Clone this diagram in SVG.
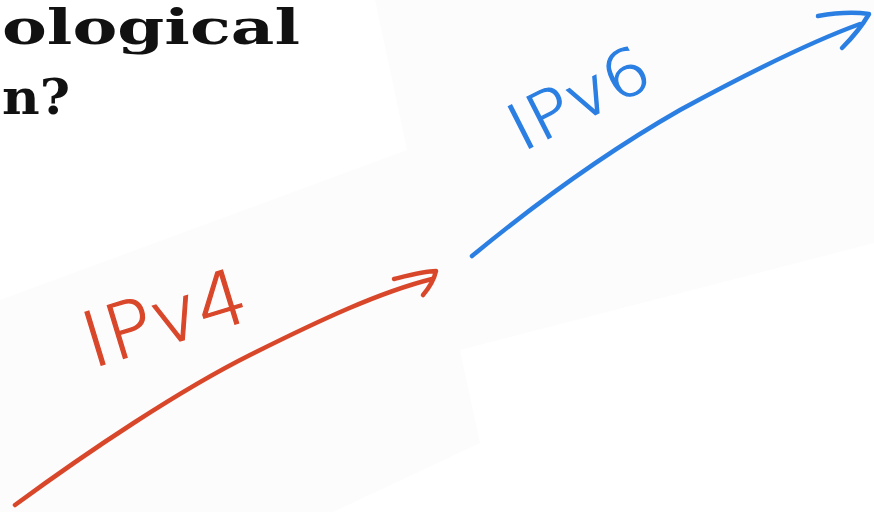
<svg xmlns="http://www.w3.org/2000/svg" width="874" height="512" viewBox="0 0 874 512">
  <style>
    .head { font-family: "DejaVu Serif", "Liberation Serif", serif; font-weight: bold; font-size: 48px; fill: #111; }
    .hand { font-family: "DejaVu Sans", "Liberation Sans", sans-serif; font-weight: 200; stroke-width: 1.2; }
    .red { stroke: #d9472b; fill: none; stroke-width: 4.5; stroke-linecap: round; stroke-linejoin: round; }
    .blue { stroke: #2b7fe3; fill: none; stroke-width: 4.5; stroke-linecap: round; stroke-linejoin: round; }
  </style>
  <rect width="874" height="512" fill="#ffffff"/>
  <g id="paper">
    <polygon points="375,0 874,0 874,243 460,350 480,443 333,512 0,512 0,300 400,140" fill="#fcfcfc"/>
    <polygon points="0,0 375,0 407,150 0,300" fill="#ffffff"/>
  </g>
  <g id="title">
    <text class="head" x="2" y="44" textLength="298" lengthAdjust="spacingAndGlyphs">ological</text>
    <text class="head" x="2" y="114" textLength="68" lengthAdjust="spacingAndGlyphs">n?</text>
  </g>
  <g id="connectors">
    <g id="ipv4-arrow">
      <path class="red" d="M15,505 C90,450 180,390 250,355 C320,320 380,292 432,279"/>
      <path class="red" d="M394,279 C410,275 425,271 436,271 C434,280 429,288 423,295"/>
    </g>
    <g id="ipv6-arrow">
      <path class="blue" d="M472,256 C540,200 610,150 680,110 C750,72 810,42 860,24"/>
      <path class="blue" d="M818,16 C835,13 855,12 869,14 C862,26 852,38 842,48"/>
    </g>
  </g>
  <g id="ipv4-label">
    <text class="hand" transform="translate(92,368) rotate(-17)" font-size="76" fill="#d9472b" stroke="#d9472b" textLength="168" lengthAdjust="spacingAndGlyphs">IPv4</text>
  </g>
  <g id="ipv6-label">
    <text class="hand" transform="translate(522,152) rotate(-27)" font-size="64" fill="#2b7fe3" stroke="#2b7fe3" textLength="150" lengthAdjust="spacingAndGlyphs">IPv6</text>
  </g>
</svg>
